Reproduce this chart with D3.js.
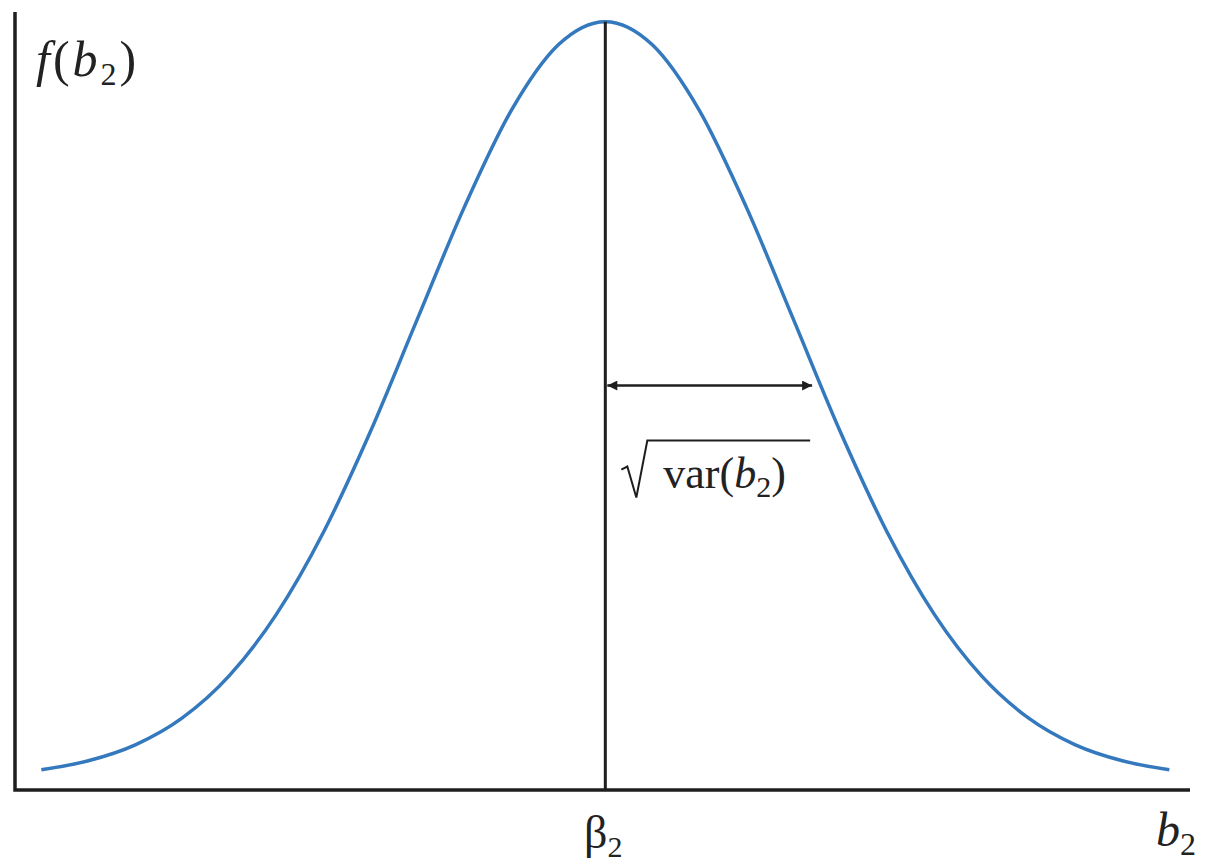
<!DOCTYPE html>
<html>
<head>
<meta charset="utf-8">
<script src="https://cdn.jsdelivr.net/npm/d3@7"></script>
<style>
  body { margin: 0; background: #fff; }
  text { font-family: "Liberation Serif", "DejaVu Serif", serif; fill: #222; }
</style>
</head>
<body>
<div id="chart"></div>
<script>
// density curve, x in units of sd around beta2
var xs = [-3.0, -2.75, -2.5, -2.25, -2.0, -1.75, -1.5, -1.25, -1.0, -0.75, -0.5, -0.25, 0,
          0.25, 0.5, 0.75, 1.0, 1.25, 1.5, 1.75, 2.0, 2.25, 2.5, 2.75, 3.0];
var fs = [0.0044, 0.0091, 0.0175, 0.0317, 0.0540, 0.0863, 0.1295, 0.1826, 0.2420, 0.3011, 0.3521, 0.3867, 0.3989,
          0.3867, 0.3521, 0.3011, 0.2420, 0.1826, 0.1295, 0.0863, 0.0540, 0.0317, 0.0175, 0.0091, 0.0044];
var meanX = 0;
var arrowX = [0, 1.1];
var arrowY = 0.207;

function init() {
    var w = 1210;
    var h = 864;

    var svg = d3.select("#chart")
        .append("svg")
        .attr("width", w)
        .attr("height", h);

    var xScale = d3.scaleLinear()
        .domain([-3.14, 3.11])
        .range([15, 1190]);

    var yScale = d3.scaleLinear()
        .domain([-0.0063, 0.404])
        .range([790, 12]);

    var data = xs.map(function(d, i) { return [d, fs[i]]; });

    // bell curve
    var line = d3.line()
        .x(function(d) { return xScale(d[0]); })
        .y(function(d) { return yScale(d[1]); })
        .curve(d3.curveMonotoneX);

    svg.append("path")
        .datum(data)
        .attr("d", line)
        .attr("fill", "none")
        .attr("stroke", "#3479bd")
        .attr("stroke-width", 3.5);

    // axes
    var x0 = xScale.range()[0];
    var y0 = yScale.range()[0];
    svg.append("path")
        .attr("d", "M" + x0 + "," + yScale.range()[1] + "V" + y0 + "H" + xScale.range()[1])
        .attr("fill", "none")
        .attr("stroke", "#1e1e1e")
        .attr("stroke-width", 3.5);

    // vertical line at the mean
    svg.append("line")
        .attr("x1", xScale(meanX))
        .attr("x2", xScale(meanX))
        .attr("y1", yScale(d3.max(fs)))
        .attr("y2", y0)
        .attr("stroke", "#1e1e1e")
        .attr("stroke-width", 3);

    // double arrow for the standard deviation
    var defs = svg.append("defs");
    defs.append("marker")
        .attr("id", "head")
        .attr("viewBox", "0 0 10 10")
        .attr("refX", 10)
        .attr("refY", 5)
        .attr("markerWidth", 7)
        .attr("markerHeight", 4)
        .attr("markerUnits", "strokeWidth")
        .attr("orient", "auto-start-reverse")
        .append("path")
        .attr("d", "M0,0L10,5L0,10Z")
        .attr("fill", "#1e1e1e");

    var ay = yScale(arrowY);
    svg.append("line")
        .attr("x1", xScale(arrowX[0]) + 2)
        .attr("x2", xScale(arrowX[1]))
        .attr("y1", ay)
        .attr("y2", ay)
        .attr("stroke", "#1e1e1e")
        .attr("stroke-width", 2.5)
        .attr("marker-start", "url(#head)")
        .attr("marker-end", "url(#head)");

    // sqrt(var(b2)) label
    var lx = xScale(arrowX[0]) + 16;
    svg.append("path")
        .attr("d", "M" + lx + "," + (ay + 84) + "l6,-3l9,31l11,-57H" + (xScale(arrowX[1]) - 2))
        .attr("fill", "none")
        .attr("stroke", "#1e1e1e")
        .attr("stroke-width", 2);

    var varText = svg.append("text")
        .attr("x", lx + 42)
        .attr("y", ay + 102)
        .attr("font-size", 44);
    varText.append("tspan").text("var(");
    varText.append("tspan").attr("font-style", "italic").text("b");
    varText.append("tspan").attr("font-size", 30).attr("dy", 9).text("2");
    varText.append("tspan").attr("dy", -9).text(")");

    // y axis label
    var fy = svg.append("text")
        .attr("x", 36)
        .attr("y", 76)
        .attr("font-size", 50)
        .attr("letter-spacing", 3);
    fy.append("tspan").attr("font-style", "italic").text("f");
    fy.append("tspan").text("(");
    fy.append("tspan").attr("font-style", "italic").text("b");
    fy.append("tspan").attr("font-size", 32).attr("dy", 9).text("2");
    fy.append("tspan").attr("dy", -9).text(")");

    // x labels
    var beta = svg.append("text")
        .attr("x", xScale(meanX) - 2)
        .attr("y", 848)
        .attr("text-anchor", "middle")
        .attr("font-size", 46);
    beta.append("tspan").text("β");
    beta.append("tspan").attr("font-size", 30).attr("dy", 9).text("2");

    var bx = svg.append("text")
        .attr("x", 1156)
        .attr("y", 846)
        .attr("font-size", 48);
    bx.append("tspan").attr("font-style", "italic").text("b");
    bx.append("tspan").attr("font-size", 32).attr("dy", 9).text("2");
}

window.onload = init;
</script>
</body>
</html>
